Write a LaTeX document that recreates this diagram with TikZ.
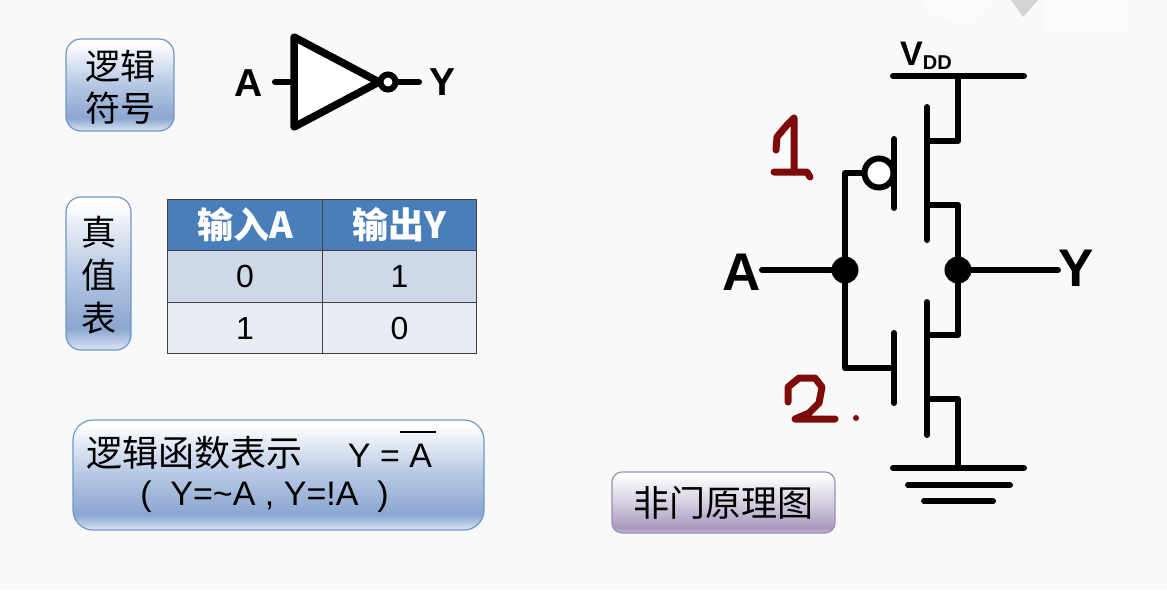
\documentclass[tikz,border=0pt]{standalone}
\usepackage{fontspec}
\setmainfont{Liberation Sans}
\newfontfamily\cjk{Noto Sans CJK SC}
\definecolor{bgpage}{HTML}{F9F9F9}
\definecolor{headblue}{HTML}{4A7EBB}
\definecolor{rowdark}{HTML}{CFD8E8}
\definecolor{rowlight}{HTML}{E9EBF5}
\definecolor{inkred}{HTML}{7E0A0A}
\definecolor{blueedge}{HTML}{6F97C9}
\definecolor{purpleedge}{HTML}{9C8DBB}
\definecolor{bluelow}{HTML}{D8E6F3}
\definecolor{bluedeep}{HTML}{8CA6D0}
\definecolor{bluemid}{HTML}{B5C7E3}
\definecolor{purplelow}{HTML}{C8BFD8}
\definecolor{purpledeep}{HTML}{A89ABF}
\definecolor{purplemid}{HTML}{D5CFE0}
\pgfdeclareverticalshading{boxblue}{100bp}{color(0bp)=(bluelow);color(25bp)=(bluelow);color(32bp)=(bluedeep);color(50bp)=(bluemid);color(73bp)=(white);color(100bp)=(white)}
\pgfdeclareverticalshading{boxpurple}{100bp}{color(0bp)=(purplelow);color(25bp)=(purplelow);color(29bp)=(purpledeep);color(50bp)=(purplemid);color(73bp)=(white);color(100bp)=(white)}
\tikzset{
  wire/.style={line width=6pt, line cap=round, line join=round},
  dot/.style={circle, fill=black, inner sep=0pt, minimum size=27pt},
  bubble/.style={circle, draw=black, fill=white, line width=6pt, inner sep=0pt},
  label/.style={inner sep=0pt, font=\fontsize{53}{53}\selectfont\bfseries},
  biglabel/.style={inner sep=0pt, font=\fontsize{39}{39}\selectfont\bfseries},
  bluebox/.style={draw=blueedge, line width=1.2pt, rounded corners=15pt, shading=boxblue, inner sep=0pt, align=center},
  purplebox/.style={draw=purpleedge, line width=1.2pt, rounded corners=10pt, shading=boxpurple, inner sep=0pt},
  cell/.style={draw=black!75, line width=1.2pt, minimum width=154.5pt, minimum height=51.5pt, inner sep=0pt, font=\fontsize{32}{32}\selectfont},
  headcell/.style={cell, fill=headblue, text=white, font=\fontsize{36}{36}\selectfont\cjk\bfseries},
  scribble/.style={draw=inkred, line width=7pt, line cap=round, line join=round},
}
\begin{document}
\begin{tikzpicture}[x=1pt,y=-1pt]
\useasboundingbox (0,0) rectangle (1167,590);
\fill[bgpage] (0,0) rectangle (1167,590);
\fill[black!1.5] (1045,0) rectangle (1130,32);
\fill[black!1.5] (925,0) -- (995,0) -- (975,28) -- (925,14) -- cycle;
\fill[black!17] (1011,0) -- (1038,0) -- (1023,17) -- cycle;

\node[bluebox, minimum width=108pt, minimum height=92pt] (symbox) at (120,85) {};
\node[font=\fontsize{35}{42}\selectfont\cjk, align=center, inner sep=0pt] (symtext) at (120,87) {逻辑\\符号};
\node[bluebox, minimum width=65pt, minimum height=153pt] (tabbox) at (98.5,273.5) {};
\node[font=\fontsize{35}{43}\selectfont\cjk, align=center, inner sep=0pt] (tabtext) at (98.5,275.5) {真\\值\\表};
\node[bluebox, rounded corners=20pt, minimum width=411pt, minimum height=110pt] (fnbox) at (278.5,475) {};
\node[font=\fontsize{36}{36}\selectfont\cjk, inner sep=0pt] (fntext) at (194,453) {逻辑函数表示};
\node[font=\fontsize{34}{34}\selectfont, inner sep=0pt] (fneq) at (390,456) {Y = A};
\node[font=\fontsize{34}{34}\selectfont, inner sep=0pt] (fnalt) at (264.5,497) {(\ \ Y=\~{}A , Y=!A\ \ )};
\coordinate (barl) at (400,432);
\coordinate (barr) at (436,432);
\draw[line width=2.5pt] (barl) -- (barr);
\node[purplebox, minimum width=223pt, minimum height=61pt] (titlebox) at (723.5,502.5) {};
\node[font=\fontsize{36}{36}\selectfont\cjk, inner sep=0pt] (titletext) at (723.5,503) {非门原理图};

\node[headcell] (h1) at (245,225) {输入A};
\node[headcell] (h2) at (399.5,225) {输出Y};
\node[cell, fill=rowdark] (c11) at (245,276.5) {0};
\node[cell, fill=rowdark] (c12) at (399.5,276.5) {1};
\node[cell, fill=rowlight] (c21) at (245,328) {1};
\node[cell, fill=rowlight] (c22) at (399.5,328) {0};

\node[biglabel] (inva) at (249,83) {A};
\node[biglabel] (invy) at (443,82) {Y};
\coordinate (t1) at (294,37);
\coordinate (t2) at (294,127);
\coordinate (t3) at (379,82);
\coordinate (ta) at (275,82);
\coordinate (ty) at (419,82);
\coordinate (tin) at (294,82);
\draw[wire] (ta) -- (tin);
\draw[line width=7.5pt, line join=round, fill=white] (t1) -- (t2) -- (t3) -- cycle;
\node[bubble, minimum size=15pt] (invb) at (388,82) {};
\draw[wire] (invb) -- (ty);

\node[inner sep=0pt, anchor=base west] (vdd) at (900,65) {\fontsize{34}{34}\selectfont\bfseries V\raisebox{-4pt}{\fontsize{20}{20}\selectfont DD}};
\coordinate (vl) at (893,76);
\coordinate (vr) at (1024,76);
\coordinate (vt) at (958,76);
\draw[wire] (vl) -- (vr);

\node[label] (a) at (742,272) {A};
\node[label] (y) at (1076,268) {Y};
\node[dot] (in) at (845,270) {};
\node[dot] (out) at (958,270) {};
\coordinate (af) at (762,270);
\coordinate (yf) at (1058,270);
\draw[wire] (af) -- (in);
\draw[wire] (out) -- (yf);

\coordinate (pg1) at (894,139);
\coordinate (pg2) at (894,208);
\coordinate (pc1) at (927,107);
\coordinate (pc2) at (927,240);
\coordinate (ps) at (927,141);
\coordinate (pd) at (927,205);
\draw[wire] (pg1) -- (pg2);
\draw[wire] (pc1) -- (pc2);
\draw[wire] (vt) |- (ps);
\draw[wire] (pd) -| (out);
\node[bubble, minimum size=29pt] (pb) at (879,173) {};
\draw[wire] (pb) -| (in);

\coordinate (ng) at (894,368);
\coordinate (ng1) at (894,333);
\coordinate (ng2) at (894,403);
\coordinate (nc1) at (927,302);
\coordinate (nc2) at (927,435);
\coordinate (nd) at (927,335);
\coordinate (ns) at (927,399);
\coordinate (gt) at (958,468);
\draw[wire] (ng1) -- (ng2);
\draw[wire] (nc1) -- (nc2);
\draw[wire] (in) |- (ng);
\draw[wire] (nd) -| (out);
\draw[wire] (ns) -| (gt);

\coordinate (g1l) at (893,468);
\coordinate (g1r) at (1024,468);
\coordinate (g2l) at (908,485);
\coordinate (g2r) at (1010,485);
\coordinate (g3l) at (924,501);
\coordinate (g3r) at (993,501);
\draw[wire] (g1l) -- (g1r);
\draw[wire] (g2l) -- (g2r);
\draw[wire] (g3l) -- (g3r);

\draw[scribble] (776,150) -- (777,137) -- (787,125) -- (794,118) -- (794,172);
\draw[scribble] (774,172) -- (807,172) -- (810,177);
\draw[scribble] (788,402) -- (788,387) -- (799,378) -- (815,378) -- (822,387) -- (819,403) -- (809,413) -- (795,419) -- (835,419);
\fill[inkred] (856,418) circle (3);
\end{tikzpicture}
\end{document}
